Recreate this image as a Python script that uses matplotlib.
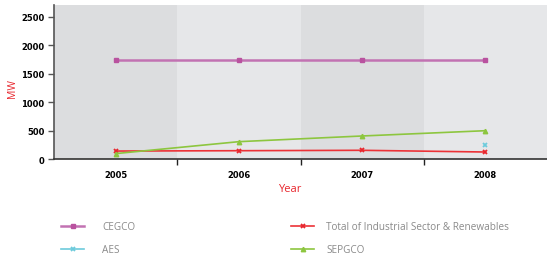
import numpy as np
import matplotlib.pyplot as plt

years = ["2005", "2006", "2007", "2008"]
cegco = [1746, 1746, 1746, 1746]
total_ind = [140, 146, 153, 123]
aes = [np.nan, np.nan, np.nan, 252]
sepgco = [95, 305, 405, 498]

fig = plt.figure(figsize=(5.47, 2.55), dpi=100)
W, H = 547, 255
ax = fig.add_axes([54 / W, (H - 160) / H, (547 - 54) / W, (160 - 6) / H])

x = np.arange(len(years))
for i in x:
    ax.axvspan(i - 0.5, i + 0.5, color="#dcdddf" if i % 2 == 0 else "#e6e7e9", lw=0, zorder=0)

h_ceg, = ax.plot(x, cegco, color="#c272b2", lw=1.8, marker="s", ms=3.5, mfc="#b9529f", mec="#b9529f", label="CEGCO", zorder=3)
h_tot, = ax.plot(x, total_ind, color="#ec3237", lw=1.2, marker="x", ms=3, mew=1.3, mec="#e8262d", label="Total of Industrial Sector & Renewables", zorder=3)
h_aes, = ax.plot(x, aes, color="#6dcbdc", lw=1.2, marker="x", ms=3, mew=1.3, label="AES", zorder=3)
h_sep, = ax.plot(x, sepgco, color="#8dc63f", lw=1.2, marker="^", ms=3.2, label="SEPGCO", zorder=3)

ax.set_xlim(-0.5, 3.5)
ax.set_ylim(0, 2710)
ax.set_yticks([0, 500, 1000, 1500, 2000, 2500])
ax.set_xticks(x)
ax.set_xticklabels(years)
ax.set_xticks(np.arange(0.5, 3.5, 1), minor=True)
ax.tick_params(axis="x", which="major", length=0, pad=8)
ax.tick_params(axis="x", which="minor", length=4, width=1, direction="out", color="#222222")
ax.tick_params(axis="y", length=4, width=1, direction="out", color="#555555", pad=3)
for lab in ax.get_xticklabels() + ax.get_yticklabels():
    lab.set_fontsize(6)
    lab.set_fontweight("bold")

for s in ["top", "right"]:
    ax.spines[s].set_visible(False)
ax.spines["left"].set_color("#555555")
ax.spines["left"].set_linewidth(1.2)
ax.spines["bottom"].set_color("#333333")
ax.spines["bottom"].set_linewidth(1.2)

fig.text(13 / W, 1 - 88 / H, "MW", color="#e8262d", fontsize=7.5, rotation=90,
         ha="center", va="center", family="Open Sans")
fig.text(290 / W, 1 - 189 / H, "Year", color="#e8262d", fontsize=8,
         ha="center", va="center", family="Open Sans")

prop = {"family": "Open Sans", "size": 7.2}
leg1 = fig.legend([h_ceg, h_aes], ["CEGCO", "AES"], loc="upper left",
                  bbox_to_anchor=(52 / W, 1 - 213 / H), frameon=False, prop=prop,
                  handlelength=2.3, handletextpad=1.85, labelspacing=1.2)
leg2 = fig.legend([h_tot, h_sep], ["Total of Industrial Sector & Renewables", "SEPGCO"],
                  loc="upper left", bbox_to_anchor=(282 / W, 1 - 213 / H), frameon=False,
                  prop=prop, handlelength=2.3, handletextpad=1.25, labelspacing=1.2)
for leg in (leg1, leg2):
    for t in leg.get_texts():
        t.set_color("#8a8a8a")

fig.savefig("out.png", dpi=100)
